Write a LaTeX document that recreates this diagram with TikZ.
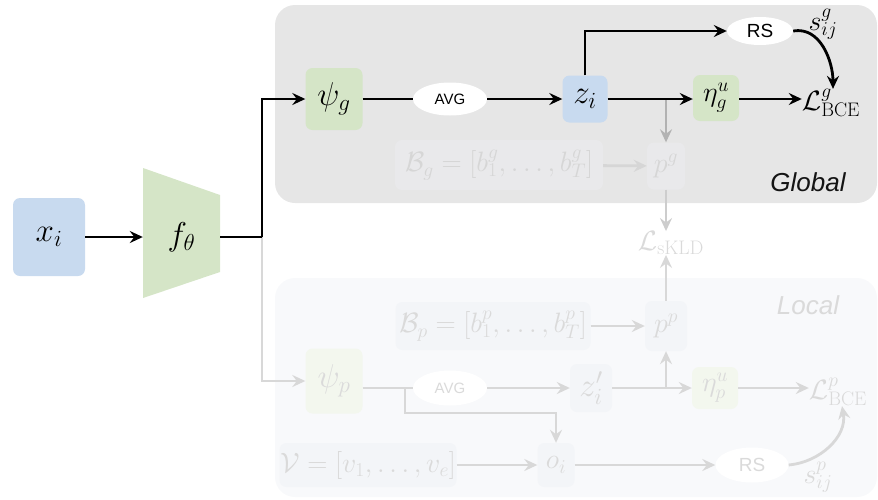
\RequirePackage{fix-cm}
\documentclass[tikz,border=0pt]{standalone}
\usepackage{fontspec}
\setsansfont{Liberation Sans}
\usetikzlibrary{arrows.meta,shapes.geometric}

\definecolor{boxblue}{RGB}{200,218,239}
\definecolor{boxgreen}{RGB}{213,229,199}
\definecolor{globalbg}{RGB}{230,230,230}
\definecolor{localbg}{RGB}{248,249,251}
\definecolor{gfadebox}{RGB}{233,233,235}
\definecolor{gfadetext}{RGB}{214,214,214}
\definecolor{lfadebox}{RGB}{243,245,248}
\definecolor{lfadegreen}{RGB}{243,247,238}
\definecolor{lfadetext}{RGB}{218,218,218}
\definecolor{lfadeline}{RGB}{216,216,216}
\definecolor{midline}{RGB}{178,178,178}
\definecolor{softline}{RGB}{205,205,205}

\begin{document}
\begin{tikzpicture}[x=1pt,y=-1pt,
  tip/.style={-{Stealth[length=13pt,width=12pt,inset=4.5pt]}},
  blkline/.style={line width=2.8pt,black},
  blk/.style={blkline,tip},
  fadeline/.style={line width=2.8pt,lfadeline},
  fade/.style={fadeline,tip},
  bigmath/.style={font=\fontsize{33}{35}\selectfont},
  midmath/.style={font=\fontsize{28}{30}\selectfont},
  box/.style={rounded corners=7pt,inner sep=0pt},
  bluebox/.style={box,fill=boxblue},
  greenbox/.style={box,fill=boxgreen},
  oval/.style={ellipse,inner sep=0pt},
  title/.style={font=\sffamily\itshape\fontsize{26}{28}\selectfont}
]
\useasboundingbox (0,0) rectangle (878,499);

% branch panels
\fill[globalbg,rounded corners=20pt] (275,5) rectangle (877,203);
\fill[localbg,rounded corners=20pt] (275,278) rectangle (877,497);
\node[title,text=black!92] (gtitle) at (808,182) {Global};
\node[title,text=lfadetext] (ltitle) at (808,305) {Local};

% shared encoder
\node[bluebox,minimum width=72,minimum height=78,bigmath] (x) at (49,237) {$x_i$};
\fill[boxgreen] (143,168) -- (220,195) -- (220,272) -- (143,298) -- cycle;
\node[bigmath,minimum width=77,minimum height=104,inner sep=0pt] (f) at (181.5,237) {$f_\theta$};
\coordinate (j) at (262,237);

% ---------- local branch (faded) ----------
\node[box,fill=lfadegreen,minimum width=57,minimum height=65,bigmath,text=lfadetext] (psip) at (334,381) {$\psi_p$};
\node[oval,fill=white,minimum width=74,minimum height=35,font=\sffamily\fontsize{15}{17}\selectfont,text=lfadetext] (avgp) at (450,388) {AVG};
\node[box,fill=lfadebox,minimum width=42,minimum height=48,bigmath,text=lfadetext] (zp) at (591,388) {$z_i'$};
\node[box,fill=lfadegreen,minimum width=46,minimum height=42,midmath,text=lfadetext] (etap) at (715,388) {$\eta_p^u$};
\node[midmath,text=lfadetext,inner sep=0pt] (Lp) at (838,392) {$\mathcal{L}^p_{\mathrm{BCE}}$};
\node[box,fill=lfadebox,minimum width=195,minimum height=48,midmath,text=lfadetext] (Bp) at (493,326) {$\mathcal{B}_p=[b^p_1,\ldots,b^p_T]$};
\node[box,fill=lfadebox,minimum width=42,minimum height=50,midmath,text=lfadetext] (pp) at (666,326) {$p^p$};
\node[box,fill=lfadebox,minimum width=37,minimum height=44,midmath,text=lfadetext] (op) at (556,465) {$o_i$};
\node[box,fill=lfadebox,minimum width=177,minimum height=44,midmath,text=lfadetext] (V) at (368,465) {$\mathcal{V}=[v_1,\ldots,v_e]$};
\node[oval,fill=white,minimum width=73,minimum height=35,font=\sffamily\fontsize{19}{21}\selectfont,text=lfadetext] (rsp) at (752,465) {RS};
\node[midmath,text=lfadetext,inner sep=0pt] (sp) at (818,477) {$s^p_{ij}$};
\node[midmath,text=lfadetext,inner sep=0pt] (Lk) at (671,243) {$\mathcal{L}_{\mathrm{sKLD}}$};

\coordinate (bp1) at (405,388);
\coordinate (bp2) at (405,413);
\coordinate (bp3) at (666,388);

\draw[fade] (j) |- (psip.west);
\draw[fadeline] (psip.east |- avgp) -- (avgp);
\draw[fade] (avgp) -- (zp);
\draw[fade] (zp) -- (etap);
\draw[fade] (etap.east) -- (etap.east -| Lp.west);
\draw[fade] (bp3) -- (pp.south);
\draw[fade] (pp.north) -- (pp.north |- Lk.south);
\draw[fade] (Bp) -- (pp);
\draw[fade] (bp1) -- (bp2) -| (op.north);
\draw[fade] (V) -- (op);
\draw[fade] (op) -- (rsp);
\draw[fade] (rsp.east) to[out=5,in=-80] ([xshift=4pt]Lp.south);

% ---------- global branch ----------
\node[greenbox,minimum width=57,minimum height=62,bigmath] (psig) at (334,99) {$\psi_g$};
\node[oval,fill=white,minimum width=74,minimum height=33,font=\sffamily\fontsize{15}{17}\selectfont] (avgg) at (450,99) {AVG};
\node[bluebox,minimum width=45,minimum height=47,bigmath] (zg) at (585,99) {$z_i$};
\node[greenbox,minimum width=46,minimum height=46,midmath] (etag) at (716,98) {$\eta_g^u$};
\node[midmath,inner sep=0pt] (Lg) at (831,103) {$\mathcal{L}^g_{\mathrm{BCE}}$};
\node[oval,fill=white,minimum width=66,minimum height=28,font=\sffamily\fontsize{19}{21}\selectfont] (rsg) at (760,31) {RS};
\node[midmath,inner sep=0pt] (sg) at (823,24) {$s^g_{ij}$};
\node[box,fill=gfadebox,minimum width=208,minimum height=50,midmath,text=gfadetext] (Bg) at (499,165) {$\mathcal{B}_g=[b^g_1,\ldots,b^g_T]$};
\node[box,fill=gfadebox,minimum width=38,minimum height=47,midmath,text=gfadetext] (pg) at (666,166) {$p^g$};

\coordinate (bg1) at (666,99);
\draw[line width=2.8pt,midline,tip] (bg1) -- (pg.north);
\draw[line width=2.8pt,softline,tip] (pg.south) -- (pg.south |- Lk.north);
\draw[line width=2.8pt,gfadetext,tip] (Bg) -- (pg);

\draw[blk] (x) -- (f.west);
\draw[blkline] (f.east) -- (j);
\draw[blk] (j) |- (psig.west);
\draw[blkline] (psig) -- (avgg);
\draw[blk] (avgg) -- (zg);
\draw[blk] (zg) -- (etag.west |- zg);
\draw[blk] (etag.east |- zg) -- (Lg.west |- zg);
\draw[blk] (zg.north) |- (rsg.west);
\draw[blk] (rsg.east) to[out=10,in=90] ([xshift=2pt]Lg.north);
\end{tikzpicture}
\end{document}
